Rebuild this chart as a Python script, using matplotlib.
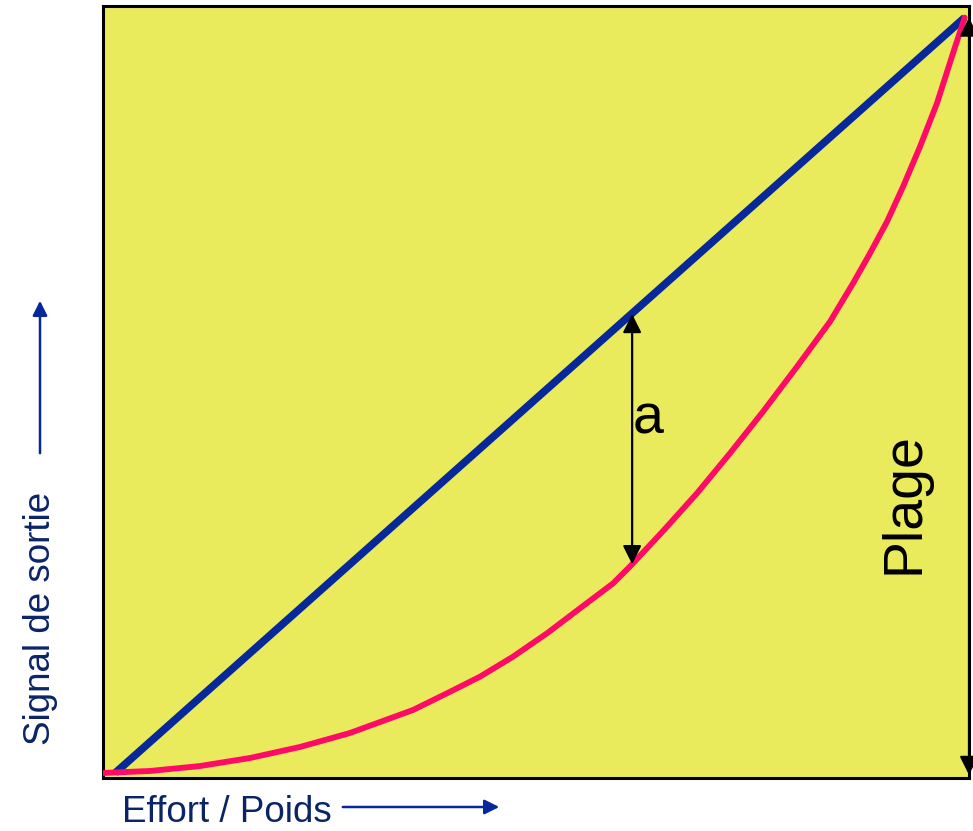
import matplotlib.pyplot as plt
from matplotlib.patches import FancyArrowPatch

plt.rcParams["font.family"] = ["Liberation Sans", "DejaVu Sans"]

# ideal (linear) response
ideal_x = [0.014, 0.995]
ideal_y = [0.0065, 0.985]

real_x = [0.0, 0.0543, 0.1120, 0.1697, 0.2275, 0.2852, 0.3199, 0.3580,
          0.3972, 0.4353, 0.4734, 0.5127, 0.5508, 0.5889, 0.6085, 0.6467,
          0.6859, 0.7240, 0.7621, 0.8014, 0.8395, 0.8661, 0.8857, 0.9053,
          0.9238, 0.9434, 0.9630, 0.9815, 0.995]
real_y = [0.0065, 0.0091, 0.0155, 0.0259, 0.0402, 0.0583, 0.0725, 0.0881,
          0.1097, 0.1312, 0.1571, 0.1874, 0.2198, 0.2520, 0.2740, 0.3199,
          0.3688, 0.4206, 0.4745, 0.5328, 0.5911, 0.6408, 0.6797, 0.7206,
          0.7659, 0.8177, 0.8740, 0.9387, 0.985]

gap_x = 0.611
gap_top = 0.601
gap_bottom = 0.277

BG = "#E9EA5C"
BLUE = "#06289A"
PINK = "#FF0A66"
NAVY = "#0B2468"

fig = plt.figure(figsize=(9.73, 8.31), dpi=100)
ax = fig.add_axes([103 / 973, 53 / 831, 866 / 973, 772 / 831])
ax.set_facecolor(BG)
ax.set_xlim(0, 1)
ax.set_ylim(0, 1)
ax.set_xticks([])
ax.set_yticks([])
for spine in ax.spines.values():
    spine.set_linewidth(2.2)
    spine.set_color("black")

ax.plot(ideal_x, ideal_y, color=BLUE, lw=5.5, solid_capstyle="butt", zorder=3)
ax.plot(real_x, real_y, color=PINK, lw=4.2, solid_capstyle="round",
        solid_joinstyle="round", zorder=3)

# deviation "a"
ax.annotate("", xy=(gap_x, gap_top), xytext=(gap_x, gap_bottom),
            arrowprops=dict(arrowstyle="<|-|>", color="black", lw=1.6,
                            mutation_scale=28, shrinkA=0, shrinkB=0), zorder=4)
ax.text(gap_x + 0.001, 0.465, "a", fontsize=40, ha="left", va="center",
        color="black")

# full range arrow on the right edge
ax.annotate("", xy=(1.0, ideal_y[1]), xytext=(1.0, 0.004),
            arrowprops=dict(arrowstyle="<|-|>", color="black", lw=1.6,
                            mutation_scale=28, shrinkA=0, shrinkB=0),
            annotation_clip=False, zorder=4)
ax.text(0.925, 0.356, "Plage", fontsize=40, rotation=90, ha="center",
        va="center", color="black")

# axis captions with arrows
fig.text(122 / 973, 1 - 822 / 831, "Effort / Poids", fontsize=26.5,
         color=NAVY, ha="left", va="baseline")
fig.patches.append(FancyArrowPatch(
    (340 / 973, 1 - 807 / 831), (502 / 973, 1 - 807 / 831),
    transform=fig.transFigure, arrowstyle="-|>", mutation_scale=22,
    color=BLUE, lw=1.8))

fig.text(41 / 973, 1 - 618 / 831, "Signal de sortie", fontsize=26.5,
         color=NAVY, rotation=90, ha="center", va="center")
fig.patches.append(FancyArrowPatch(
    (40 / 973, 1 - 456 / 831), (40 / 973, 1 - 298 / 831),
    transform=fig.transFigure, arrowstyle="-|>", mutation_scale=22,
    color=BLUE, lw=1.8))

fig.savefig("out.png", dpi=100)
